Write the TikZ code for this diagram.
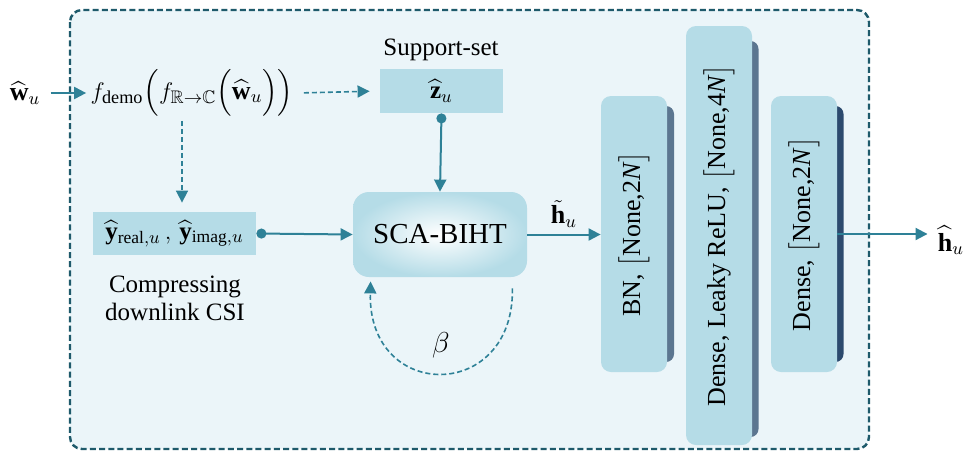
\documentclass[tikz,border=0pt]{standalone}
\usepackage{amsmath,amssymb}
\usepackage{graphicx}
\usepackage{fontspec}
\setmainfont{Liberation Serif}
\usetikzlibrary{arrows.meta}
\definecolor{bgc}{HTML}{EBF5F9}
\definecolor{boxc}{HTML}{B5DCE7}
\definecolor{tealc}{HTML}{2E8197}
\definecolor{borderc}{HTML}{1E5A6B}
\definecolor{shadA}{HTML}{5B7690}
\definecolor{shadB}{HTML}{2C4A6E}
\begin{document}
\begin{tikzpicture}[x=0.5pt,y=-0.5pt,
  txt/.style={font=\fontsize{12.5}{14}\selectfont, align=center, inner sep=1pt},
  box/.style={fill=boxc, draw=none, inner sep=1pt, font=\fontsize{12.5}{14}\selectfont},
  layer/.style={fill=boxc, draw=none, rounded corners=5pt, minimum width=33pt, inner sep=0pt, font=\fontsize{13}{15}\selectfont},
  arr/.style={draw=tealc, line width=1pt, -{Triangle[length=6pt,width=6pt]}},
  darr/.style={draw=tealc, line width=0.8pt, dash pattern=on 2.5pt off 1.5pt, -{Triangle[length=6pt,width=6pt]}},
  carr/.style={draw=tealc, line width=1pt, {Circle[length=5pt]}-{Triangle[length=6pt,width=6pt]}}]
\useasboundingbox (0,0) rectangle (965,451);
% outer frame
\draw[fill=bgc, draw=borderc, line width=1.2pt, dash pattern=on 3pt off 1.6pt, rounded corners=6pt] (70,10) rectangle (869,449);

% nodes
\node[txt, font=\fontsize{13}{15}\selectfont] (win) at (25,93) {$\widehat{\mathbf{w}}_{u}$};
\node[txt, font=\fontsize{13}{15}\selectfont, inner sep=2pt] (fd) at (192,93) {$f_{\text{demo}}\Big(f_{\mathbb{R}\to\mathbb{C}}\Big(\widehat{\mathbf{w}}_{u}\Big)\Big)$};
\node[box, minimum width=61.5pt, minimum height=22pt] (zb) at (441.5,91) {$\widehat{\mathbf{z}}_{u}$};
\node[txt] (sup) at (441,50) {Support-set};
\node[box, minimum width=81.5pt, minimum height=21.5pt] (yb) at (174.5,233.5) {$\widehat{\mathbf{y}}_{\text{real},u}\,,\,\widehat{\mathbf{y}}_{\text{imag},u}$};
\node[txt] (cmp) at (175,298) {Compressing\\downlink CSI};
\node[draw=none, rounded corners=8pt, inner color=white, outer color=boxc, minimum width=87pt, minimum height=42.5pt, font=\fontsize{14.5}{16}\selectfont] (sca) at (440,234.5) {SCA-BIHT};
\node[txt, font=\fontsize{14}{16}\selectfont] (beta) at (441,345) {$\beta$};

% layers with shadows
\fill[shadA, rounded corners=4pt] (655,106) rectangle (674,362);
\node[layer, minimum height=138pt] (bn) at (634,234) {\rotatebox{90}{BN, $\big[$None,2\textit{N}$\big]$}};
\fill[shadA, rounded corners=4pt] (740,41) rectangle (758.5,437);
\node[layer, minimum height=209.5pt] (mid) at (719,235.5) {\rotatebox{90}{Dense, Leaky ReLU, $\big[$None,4\textit{N}$\big]$}};
\fill[shadB, rounded corners=4pt] (825,106) rectangle (843.5,362);
\node[layer, minimum height=138pt] (rb) at (804,234) {\rotatebox{90}{Dense, $\big[$None,2\textit{N}$\big]$}};
\node[txt, font=\fontsize{13}{15}\selectfont] (hout) at (951,240) {$\widehat{\mathbf{h}}_{u}$};

% connectors
\coordinate (dx) at (182,0);
\draw[arr, shorten <=4pt] (win.east) -- (fd.west);
\draw[darr, shorten <=3pt, shorten >=5pt] (fd.east) -- (zb.west);
\draw[darr, shorten >=4.5pt] (fd.south -| dx) -- (yb.north -| dx);
\draw[carr] (zb.south) -- (sca.north);
\draw[carr] (yb.east) -- (sca.west);
\draw[arr] (sca.east) -- node[above=2pt, font=\fontsize{13}{15}\selectfont, inner sep=1pt] (ht) {$\tilde{\mathbf{h}}_{u}$} (sca.east -| bn.west);
\draw[arr, shorten >=4pt] (rb.east) -- (rb.east -| hout.west);
\draw[darr] ([xshift=-7.5pt,yshift=-5.5pt]sca.south east) .. controls +(2,114) and +(-3,121) .. ([xshift=9pt,yshift=-2pt]sca.south west);
\end{tikzpicture}
\end{document}
